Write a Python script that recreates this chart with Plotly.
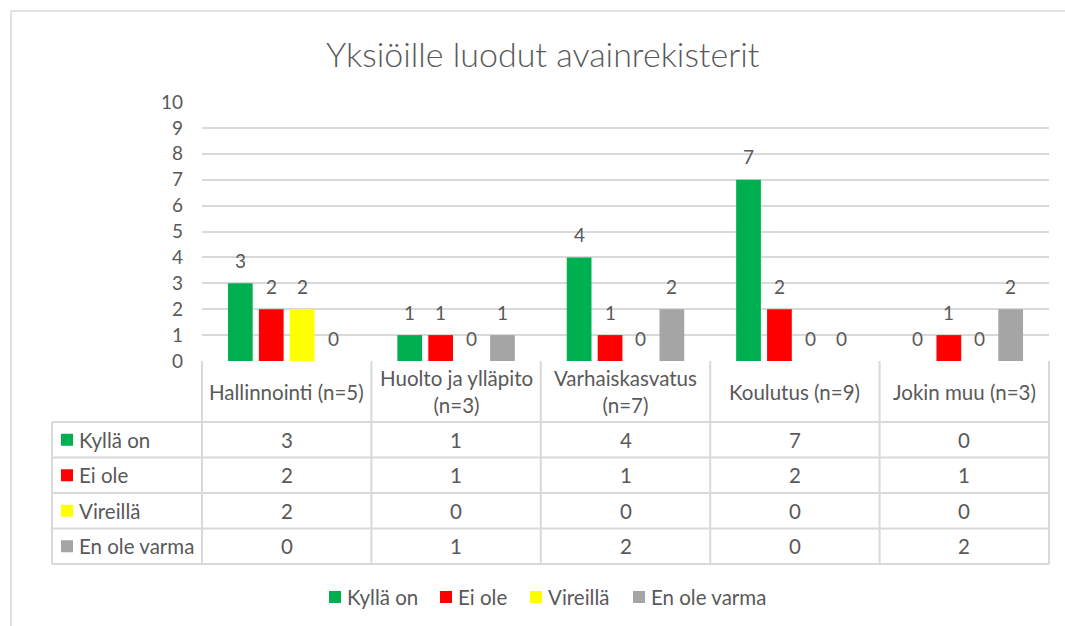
import plotly.graph_objects as go

# ---- data ----
categories = ["Hallinnointi (n=5)", "Huolto ja ylläpito<br>(n=3)", "Varhaiskasvatus<br>(n=7)",
              "Koulutus (n=9)", "Jokin muu (n=3)"]
series_names = ["Kyllä on", "Ei ole", "Vireillä", "En ole varma"]
kylla_on = [3, 1, 4, 7, 0]
ei_ole = [2, 1, 1, 2, 1]
vireilla = [2, 0, 0, 0, 0]
en_ole_varma = [0, 1, 2, 0, 2]
series_values = [kylla_on, ei_ole, vireilla, en_ole_varma]
y_ticks = list(range(0, 11))
title_text = "Yksiöille luodut avainrekisterit"

# ---- style ----
colors = ["#00B050", "#FF0000", "#FFFF00", "#A5A5A5"]
W, H = 1065, 626
FONT = "Lato"
TXT = "#595959"
GRID = "#D9D9D9"
FS = 19      # axis / data labels
FT = 20.5    # table + legend text
BARGAP = 0.27

def px(x):
    return x / W

def py(y):
    return 1 - y / H

# plot area in pixels
PL, PR, PT, PB = 202, 1049, 102, 361
TL = 52  # table left edge
row_edges = [422, 457.5, 493, 528.5, 564]
ncat = len(categories)
colw = (PR - PL) / ncat
slot = (1 - BARGAP) * colw / len(series_names)

fig = go.Figure()
annotations = []
for j, (name, vals, col) in enumerate(zip(series_names, series_values, colors)):
    fig.add_trace(go.Bar(
        x=categories, y=vals, name=name, marker=dict(color=col, line=dict(width=0)),
        showlegend=False, hoverinfo="x+y+name",
    ))
    # data labels above bars (through the axes' scales)
    for c, v in zip(categories, vals):
        annotations.append(dict(text=str(v), x=c, y=v, xref="x", yref="y",
                                xshift=(j - 1.5) * slot, yshift=23, showarrow=False,
                                font=dict(family=FONT, size=FS, color=TXT),
                                xanchor="center", yanchor="middle"))

shapes = []
line = dict(color=GRID, width=2)
# outer chart frame (continues past the right and bottom edges of the picture)
shapes.append(dict(type="rect", xref="paper", yref="paper", x0=px(11), x1=px(1085),
                   y0=py(645), y1=py(11), line=dict(color=GRID, width=1.5)))
# table lines
for i in range(ncat + 1):
    x = PL + i * colw
    shapes.append(dict(type="line", xref="paper", yref="paper", x0=px(x), x1=px(x),
                       y0=py(PB), y1=py(row_edges[-1]), line=line))
shapes.append(dict(type="line", xref="paper", yref="paper", x0=px(TL), x1=px(TL),
                   y0=py(row_edges[0]), y1=py(row_edges[-1]), line=line))
for y in row_edges:
    shapes.append(dict(type="line", xref="paper", yref="paper", x0=px(TL), x1=px(PR),
                       y0=py(y), y1=py(y), line=line))

# title
annotations.append(dict(text=title_text, xref="paper", yref="paper", x=px(543), y=py(53),
                        showarrow=False, font=dict(family=FONT, size=34, color=TXT, weight=300),
                        xanchor="center", yanchor="middle"))
# header cells
for i, c in enumerate(categories):
    annotations.append(dict(text=c, xref="paper", yref="paper", x=px(PL + (i + 0.5) * colw),
                            y=py((PB + row_edges[0]) / 2), showarrow=False,
                            font=dict(family=FONT, size=FT, color=TXT),
                            xanchor="center", yanchor="middle"))
# body rows
for r, (name, vals, col) in enumerate(zip(series_names, series_values, colors)):
    yc = (row_edges[r] + row_edges[r + 1]) / 2
    shapes.append(dict(type="rect", xref="paper", yref="paper", x0=px(61), x1=px(73),
                       y0=py(yc + 6), y1=py(yc - 6), fillcolor=col, line=dict(width=0)))
    annotations.append(dict(text=name, xref="paper", yref="paper", x=px(77), y=py(yc),
                            showarrow=False, font=dict(family=FONT, size=FT, color=TXT),
                            xanchor="left", yanchor="middle"))
    for i, v in enumerate(vals):
        annotations.append(dict(text=str(v), xref="paper", yref="paper",
                                x=px(PL + (i + 0.5) * colw), y=py(yc), showarrow=False,
                                font=dict(family=FONT, size=FT, color=TXT),
                                xanchor="center", yanchor="middle"))

# bottom legend
leg_y = 597
leg_x = [329, 440, 530, 633]
for name, col, lx in zip(series_names, colors, leg_x):
    shapes.append(dict(type="rect", xref="paper", yref="paper", x0=px(lx), x1=px(lx + 12),
                       y0=py(leg_y + 6), y1=py(leg_y - 6), fillcolor=col, line=dict(width=0)))
    annotations.append(dict(text=name, xref="paper", yref="paper", x=px(lx + 16), y=py(leg_y),
                            showarrow=False, font=dict(family=FONT, size=FT, color=TXT),
                            xanchor="left", yanchor="middle"))

fig.update_layout(
    width=W, height=H, margin=dict(l=0, r=0, t=0, b=0, pad=0, autoexpand=False),
    paper_bgcolor="white", plot_bgcolor="white",
    barmode="group", bargap=BARGAP, bargroupgap=0.2,
    xaxis=dict(domain=[px(PL), px(PR)], showticklabels=False, showgrid=False,
               zeroline=False, showline=False, ticks="", automargin=False),
    yaxis=dict(domain=[py(PB), py(PT)], range=[0, 10], tickvals=y_ticks,
               showgrid=True, gridcolor=GRID, gridwidth=2, zeroline=False,
               showline=False, ticks="", ticklabelstandoff=18, automargin=False,
               tickfont=dict(family=FONT, size=FS, color=TXT)),
    shapes=shapes, annotations=annotations, showlegend=False,
)

fig.write_html(
    "out.html",
    config={"displayModeBar": False},
    post_script=(
        "document.documentElement.style.margin='0';"
        "document.body.style.margin='0';document.body.style.overflow='hidden';"
        "var d=document.getElementById('{plot_id}');"
        "d.style.position='fixed';d.style.top='0px';d.style.left='0px';"
    ),
)
